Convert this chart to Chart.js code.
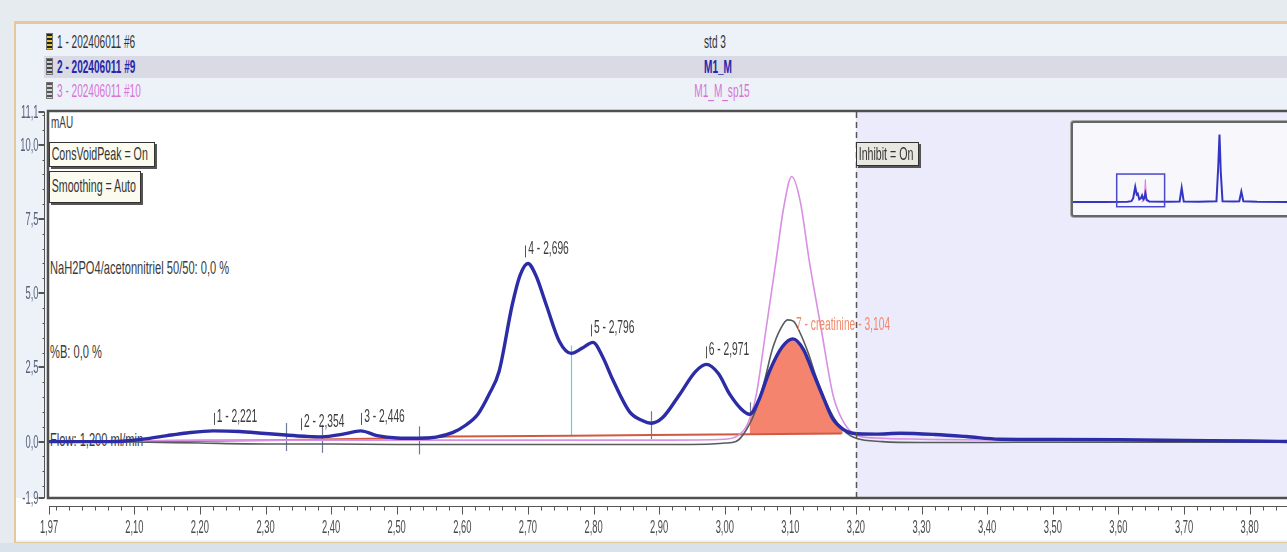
<!DOCTYPE html>
<html lang="nl">
<head>
<meta charset="UTF-8">
<title>Chromatogram std 3 / M1_M / M1_M_sp15</title>
<script src="https://cdn.jsdelivr.net/npm/chart.js"></script>
<style>
  html, body { margin: 0; padding: 0; }
  body { width: 1287px; height: 552px; overflow: hidden; position: relative;
         background: #e6ebf0; font-family: "Liberation Sans", Arial, sans-serif; }
  .abs { position: absolute; }
  .frame { left: 14px; top: 21px; width: 1290px; height: 518px; background: #edf2f9;
           border-top: 3px solid #e6c79e; border-left: 2px solid #e6c79e; border-bottom: 2px solid #e3c89a; }
  .bottomBand { left: 0; top: 543px; width: 1287px; height: 9px; background: #d9e1ea; }
  .axisArea { left: 16px; top: 498px; width: 1271px; height: 42px; background: #fff; }
  .plotBg { left: 49px; top: 112px; width: 1238px; height: 386px; background: #fff; }
  .row2 { left: 44px; top: 56px; width: 1243px; height: 22px; background: #d9dae3; }
  .t { white-space: nowrap; font-size: 19px; line-height: 22px; transform-origin: 0 50%; transform: scaleX(.53); }
  .c { white-space: nowrap; font-size: 19px; line-height: 22px; transform-origin: 50% 50%; transform: scaleX(.53); }
  .icon { width: 5px; height: 15px; border: 1px solid #777; }
  .note { white-space: nowrap; font-size: 19px; line-height: 22px; color: #3a3a3a; transform-origin: 0 50%; transform: scaleX(.585); }
  .box { border: 1px solid #333; box-shadow: 2px 2px 0 #555; background: #fbfbef; overflow: hidden; }
  .box span { display: inline-block; white-space: nowrap; font-size: 19px; line-height: 22px; color: #333;
              transform-origin: 0 50%; transform: scaleX(.56); padding-left: 3px; }
  #chrom { position: absolute; left: 0; top: 0; z-index: 2; }
  .top { z-index: 3; }
  .inset { left: 1071px; top: 121px; width: 230px; height: 92px; border: 2px solid #666;
           border-radius: 3px; background: #f7f7fc; z-index: 3; box-shadow: 0 0 0 1px #aaa; }
  #overview { position: absolute; left: 1073px; top: 123px; z-index: 4; }
</style>
</head>
<body>
<div class="abs frame"></div>
<div class="abs bottomBand"></div>
<div class="abs axisArea"></div>
<div class="abs plotBg"></div>
<div class="abs row2"></div>

<!-- header / legend rows -->
<div class="abs icon" style="left:46px;top:33px;background:repeating-linear-gradient(#222 0 2px,#e8c23a 2px 4px);"></div>
<div class="abs icon" style="left:46px;top:58px;background:repeating-linear-gradient(#444 0 2px,#c9c9d2 2px 4px);"></div>
<div class="abs icon" style="left:46px;top:82px;background:repeating-linear-gradient(#555 0 2px,#cfd3d8 2px 4px);"></div>
<div class="abs t" style="left:57px;top:31px;color:#333;">1 - 202406011 #6</div>
<div class="abs t" style="left:57px;top:56px;color:#2626ad;font-weight:bold;">2 - 202406011 #9</div>
<div class="abs t" style="left:57px;top:80px;color:#d773d6;">3 - 202406011 #10</div>
<div class="abs c" style="left:615px;width:200px;text-align:center;top:31px;color:#333;">std 3</div>
<div class="abs c" style="left:618px;width:200px;text-align:center;top:56px;color:#2626ad;font-weight:bold;">M1_M</div>
<div class="abs c" style="left:622px;width:200px;text-align:center;top:80px;color:#d773d6;">M1_M_sp15</div>

<!-- notes inside the plot -->
<div class="abs note" style="left:51px;top:112px;font-size:17px;">mAU</div>
<div class="abs box" style="left:49px;top:142px;width:104px;height:23px;z-index:1;"><span>ConsVoidPeak = On</span></div>
<div class="abs box" style="left:49px;top:171px;width:90px;height:30px;z-index:1;"><span style="line-height:28px;">Smoothing = Auto</span></div>
<div class="abs note" style="left:50px;top:257px;">NaH2PO4/acetonnitriel 50/50: 0,0 %</div>
<div class="abs note" style="left:50px;top:341px;">%B: 0,0 %</div>
<div class="abs note" style="left:50px;top:429px;">Flow: 1,200 ml/min</div>
<div class="abs box top" style="left:856px;top:142px;width:61px;height:22px;background:#e8e8e0;"><span>Inhibit = On</span></div>

<canvas id="chrom" width="1287" height="552"></canvas>
<div class="abs inset"></div>
<canvas id="overview" width="214" height="88"></canvas>

<script>
// axis ticks
const xTickValues = [1.97, 2.10, 2.20, 2.30, 2.40, 2.50, 2.60, 2.70, 2.80, 2.90, 3.00, 3.10, 3.20, 3.30, 3.40, 3.50, 3.60, 3.70, 3.80];
const yTickValues = [-1.9, 0.0, 2.5, 5.0, 7.5, 10.0, 11.1];

// trace 2 - 202406011 #9 (M1_M), min / mAU
const blueTime = [1.97, 2.02, 2.06, 2.09, 2.12, 2.15, 2.18, 2.22, 2.26, 2.30, 2.331, 2.36, 2.386, 2.42, 2.445, 2.47, 2.50, 2.534,
  2.56, 2.585, 2.605, 2.624, 2.641, 2.656, 2.676, 2.688, 2.70, 2.712, 2.728, 2.748, 2.766, 2.783, 2.799, 2.814, 2.829,
  2.855, 2.875, 2.888, 2.905, 2.931, 2.955, 2.972, 2.99, 3.008, 3.025, 3.038, 3.052, 3.068, 3.088, 3.104, 3.12, 3.134,
  3.15, 3.164, 3.18, 3.195, 3.23, 3.267, 3.32, 3.368, 3.419, 3.50, 3.60, 3.70, 3.80, 3.86];
const blueAbs = [0.0, 0.0, 0.0, 0.03, 0.1, 0.2, 0.29, 0.36, 0.34, 0.27, 0.22, 0.18, 0.16, 0.26, 0.36, 0.2, 0.12, 0.11,
  0.15, 0.3, 0.55, 0.93, 1.6, 2.36, 4.6, 5.6, 6.0, 5.6, 4.6, 3.37, 2.97, 3.15, 3.34, 2.85, 2.1,
  1.0, 0.7, 0.62, 0.8, 1.58, 2.35, 2.6, 2.3, 1.58, 1.1, 0.92, 1.4, 2.36, 3.2, 3.46, 3.1, 2.36,
  1.5, 0.79, 0.42, 0.28, 0.25, 0.28, 0.24, 0.17, 0.08, 0.07, 0.06, 0.04, 0.02, 0.0];

// trace 1 - 202406011 #6 (std 3)
const greyTime = [1.97, 2.05, 2.12, 2.20, 2.30, 2.40, 2.50, 2.60, 2.70, 2.80, 2.90, 2.98, 3.00, 3.017, 3.033, 3.048, 3.06,
  3.073, 3.085, 3.096, 3.105, 3.114, 3.127, 3.14, 3.155, 3.17, 3.185, 3.20, 3.24, 3.30, 3.393, 3.50, 3.65, 3.86];
const greyAbs = [0.0, 0.0, -0.02, -0.05, -0.08, -0.08, -0.1, -0.1, -0.1, -0.1, -0.1, -0.08, -0.05, 0.0, 0.4, 1.1, 2.0,
  3.14, 3.8, 4.1, 4.05, 3.7, 3.0, 2.13, 1.3, 0.67, 0.3, 0.11, 0.0, -0.03, -0.03, -0.02, -0.02, -0.02];

// trace 3 - 202406011 #10 (M1_M_sp15)
const pinkTime = [1.97, 2.10, 2.20, 2.30, 2.40, 2.50, 2.60, 2.70, 2.80, 2.90, 3.00, 3.02, 3.035, 3.048, 3.063, 3.078,
  3.09, 3.102, 3.115, 3.129, 3.147, 3.165, 3.18, 3.20, 3.23, 3.30, 3.50, 3.86];
const pinkAbs = [0.0, 0.02, 0.05, 0.05, 0.05, 0.05, 0.05, 0.05, 0.05, 0.05, 0.08, 0.2, 0.6, 1.57, 3.8, 6.06,
  7.9, 8.93, 8.1, 6.06, 3.8, 1.57, 0.7, 0.22, 0.12, 0.08, 0.05, 0.03];

// integration baseline of trace 2
const baseTime = [2.12, 2.331, 2.534, 2.58, 2.766, 2.888, 3.038, 3.178];
const baseAbs = [0.0, 0.05, 0.12, 0.17, 0.2, 0.22, 0.25, 0.27];

// peaks of trace 2
const peakNames = ['1 - 2,221', '2 - 2,354', '3 - 2,446', '4 - 2,696', '5 - 2,796', '6 - 2,971', '7 - creatinine - 3,104'];
const peakTime = [2.221, 2.354, 2.446, 2.696, 2.796, 2.971, 3.104];
const peakAbs = [0.36, 0.18, 0.36, 6.0, 3.34, 2.6, 3.46];
const markTime = [2.331, 2.386, 2.534, 2.888, 3.038];
const dropTime = [2.766];
const creatFrom = 3.038, creatTo = 3.18, creatBase = 0.26;
const inhibitFrom = 3.20;

// overview trace (whole run)
const ovTime = [0.25, 1.5, 2.4, 2.55, 2.62, 2.70, 2.76, 2.80, 2.86, 2.92, 2.97, 3.02, 3.06, 3.10, 3.15, 3.25, 4.0, 4.45,
  4.53, 4.61, 5.2, 5.9, 5.97, 6.02, 6.07, 6.14, 6.6, 6.8, 6.88, 6.96, 7.5, 8.7];
const ovAbs = [0, 0, 0.1, 0.3, 1.5, 6.0, 3.0, 3.3, 1.0, 1.4, 2.6, 1.0, 1.5, 3.5, 0.8, 0.2, 0.1, 0.2,
  5.6, 0.2, 0.1, 0.3, 14, 26.8, 12, 0.3, 0.2, 0.3, 4.1, 0.3, 0.1, 0];
const ovPinkTime = [2.95, 3.05, 3.10, 3.15, 3.25];
const ovPinkAbs = [0, 0.5, 8.9, 0.5, 0];

const timeMin = 1.97, timeMax = 3.857, absMin = -1.9, absMax = 11.1;

const pts = (t, v) => t.map((x, i) => ({ x, y: v[i] }));
const comma = (v, d) => v.toFixed(d).replace('.', ',');

function valueAt(t, v, x) {
  for (let i = 1; i < t.length; i++) {
    if (x <= t[i]) {
      const f = (x - t[i - 1]) / (t[i] - t[i - 1]);
      return v[i - 1] + f * (v[i] - v[i - 1]);
    }
  }
  return v[v.length - 1];
}

function narrow(ctx, txt, x, y, align, sx) {
  ctx.save();
  ctx.translate(x, y);
  ctx.scale(sx, 1);
  ctx.textAlign = align;
  ctx.fillText(txt, 0, 0);
  ctx.restore();
}

const creatArea = pts(blueTime, blueAbs).filter(p => p.x >= creatFrom && p.x <= creatTo);

const chromDecor = {
  id: 'chromDecor',
  beforeDatasetsDraw(chart) {
    const { ctx, chartArea: a, scales: { x, y } } = chart;
    ctx.save();
    const xi = x.getPixelForValue(inhibitFrom);
    ctx.fillStyle = '#ecebfb';
    ctx.fillRect(xi, a.top, a.right - xi, a.bottom - a.top);

    // peak start / end marks
    ctx.strokeStyle = '#6f7a96';
    ctx.lineWidth = 1.2;
    markTime.forEach(t => {
      const px = Math.round(x.getPixelForValue(t)) + 0.5;
      const py = y.getPixelForValue(valueAt(blueTime, blueAbs, t));
      ctx.beginPath();
      ctx.moveTo(px, py - 12);
      ctx.lineTo(px, py + 16);
      ctx.stroke();
    });
    // perpendicular drop
    ctx.strokeStyle = '#63cfe0';
    dropTime.forEach(t => {
      const px = Math.round(x.getPixelForValue(t)) + 0.5;
      ctx.beginPath();
      ctx.moveTo(px, y.getPixelForValue(valueAt(blueTime, blueAbs, t)) - 8);
      ctx.lineTo(px, y.getPixelForValue(valueAt(baseTime, baseAbs, t)));
      ctx.stroke();
    });
    ctx.restore();
  },
  afterDatasetsDraw(chart) {
    const { ctx, chartArea: a, scales: { x, y } } = chart;
    ctx.save();

    // inhibit boundary
    const xi = Math.round(x.getPixelForValue(inhibitFrom)) + 0.5;
    ctx.strokeStyle = '#555';
    ctx.lineWidth = 1.5;
    ctx.setLineDash([6, 4]);
    ctx.beginPath();
    ctx.moveTo(xi, a.top);
    ctx.lineTo(xi, a.bottom);
    ctx.stroke();
    ctx.setLineDash([]);

    // peak labels
    ctx.font = '18px "Liberation Sans", Arial, sans-serif';
    ctx.textBaseline = 'middle';
    peakNames.forEach((name, i) => {
      const px = x.getPixelForValue(peakTime[i]);
      const py = y.getPixelForValue(peakAbs[i]) - 14;
      const last = i === peakNames.length - 1;
      ctx.fillStyle = last ? '#f08a6e' : '#3c3c3c';
      if (!last) {
        ctx.strokeStyle = '#555';
        ctx.lineWidth = 1;
        ctx.beginPath();
        ctx.moveTo(Math.round(px) + 0.5, py - 4);
        ctx.lineTo(Math.round(px) + 0.5, py + 8);
        ctx.stroke();
      }
      narrow(ctx, name, px + 3, py, 'left', 0.57);
    });

    // plot frame
    ctx.strokeStyle = '#505050';
    ctx.lineWidth = 2.5;
    ctx.strokeRect(a.left - 1, a.top - 1, a.right - a.left + 4, a.bottom - a.top + 1);

    // y axis
    const ax = a.left - 4.5;
    ctx.lineWidth = 1;
    ctx.strokeStyle = '#555';
    ctx.beginPath();
    ctx.moveTo(ax, a.top);
    ctx.lineTo(ax, a.bottom);
    for (let v = -1.5; v < absMax; v += 0.5) {
      const py = Math.round(y.getPixelForValue(v)) + 0.5;
      ctx.moveTo(ax - 2, py);
      ctx.lineTo(ax, py);
    }
    ctx.stroke();
    ctx.lineWidth = 2;
    ctx.beginPath();
    yTickValues.forEach(v => {
      const py = Math.round(y.getPixelForValue(v));
      ctx.moveTo(ax - 6, py);
      ctx.lineTo(ax, py);
    });
    ctx.stroke();
    ctx.fillStyle = '#58627c';
    ctx.font = '18px "Liberation Sans", Arial, sans-serif';
    yTickValues.forEach(v => {
      narrow(ctx, comma(v, 1), ax - 6, y.getPixelForValue(v) + 1, 'right', 0.52);
    });

    // time ruler
    const ry = a.bottom + 8.5;
    ctx.strokeStyle = '#555';
    ctx.lineWidth = 1;
    ctx.beginPath();
    ctx.moveTo(a.left, ry);
    ctx.lineTo(a.right, ry);
    for (let k = 99; k * 0.02 < timeMax; k++) {
      const px = Math.round(x.getPixelForValue(k * 0.02)) + 0.5;
      ctx.moveTo(px, ry);
      ctx.lineTo(px, ry + 4);
    }
    xTickValues.forEach(v => {
      const px = Math.round(x.getPixelForValue(v)) + 0.5;
      ctx.moveTo(px, ry);
      ctx.lineTo(px, ry + 8);
    });
    ctx.stroke();
    ctx.fillStyle = '#4a4a4a';
    ctx.textBaseline = 'alphabetic';
    xTickValues.forEach(v => {
      narrow(ctx, comma(v, 2), x.getPixelForValue(v), a.bottom + 35, 'center', 0.52);
    });
    ctx.restore();
  }
};

const smooth = { pointRadius: 0, cubicInterpolationMode: 'monotone', fill: false };

new Chart(document.getElementById('chrom'), {
  type: 'line',
  data: {
    datasets: [
      { ...smooth, label: '2 - 202406011 #9', data: pts(blueTime, blueAbs), borderColor: '#2c2ca6', borderWidth: 3.4 },
      { ...smooth, label: '1 - 202406011 #6', data: pts(greyTime, greyAbs), borderColor: '#565b5b', borderWidth: 1.6 },
      { ...smooth, label: '3 - 202406011 #10', data: pts(pinkTime, pinkAbs), borderColor: '#d98fe3', borderWidth: 1.6 },
      { label: 'baseline', data: pts(baseTime, baseAbs), pointRadius: 0, borderColor: '#cf5a44', borderWidth: 2, fill: false },
      { ...smooth, label: '7 - creatinine', data: creatArea, borderWidth: 0, borderColor: 'rgba(0,0,0,0)',
        backgroundColor: '#f4846d', fill: { value: creatBase } }
    ]
  },
  options: {
    responsive: false,
    devicePixelRatio: 1,
    animation: false,
    layout: { padding: { top: 112, left: 49, bottom: 54, right: 0 } },
    plugins: { legend: { display: false }, tooltip: { enabled: false } },
    scales: {
      x: { type: 'linear', min: timeMin, max: timeMax, display: false },
      y: { min: absMin, max: absMax, display: false }
    }
  },
  plugins: [chromDecor]
});

const overviewBox = {
  id: 'overviewBox',
  afterDatasetsDraw(chart) {
    const { ctx, scales: { x, y } } = chart;
    const l = x.getPixelForValue(timeMin), r = x.getPixelForValue(timeMax);
    const t = y.getPixelForValue(absMax), b = y.getPixelForValue(absMin);
    ctx.save();
    ctx.strokeStyle = '#4848c8';
    ctx.lineWidth = 1.5;
    ctx.strokeRect(l, t, r - l, b - t);
    ctx.restore();
  }
};

new Chart(document.getElementById('overview'), {
  type: 'line',
  data: {
    datasets: [
      { label: 'M1_M', data: pts(ovTime, ovAbs), pointRadius: 0, borderColor: '#3535c4', borderWidth: 2 },
      { label: 'M1_M_sp15', data: pts(ovPinkTime, ovPinkAbs), pointRadius: 0, borderColor: '#e07ad8', borderWidth: 1 }
    ]
  },
  options: {
    responsive: false,
    devicePixelRatio: 1,
    animation: false,
    layout: { padding: 0 },
    plugins: { legend: { display: false }, tooltip: { enabled: false } },
    scales: {
      x: { type: 'linear', min: 0.248, max: 8.68, display: false },
      y: { min: -3.6, max: 31.4, display: false }
    }
  },
  plugins: [overviewBox]
});
</script>
</body>
</html>
